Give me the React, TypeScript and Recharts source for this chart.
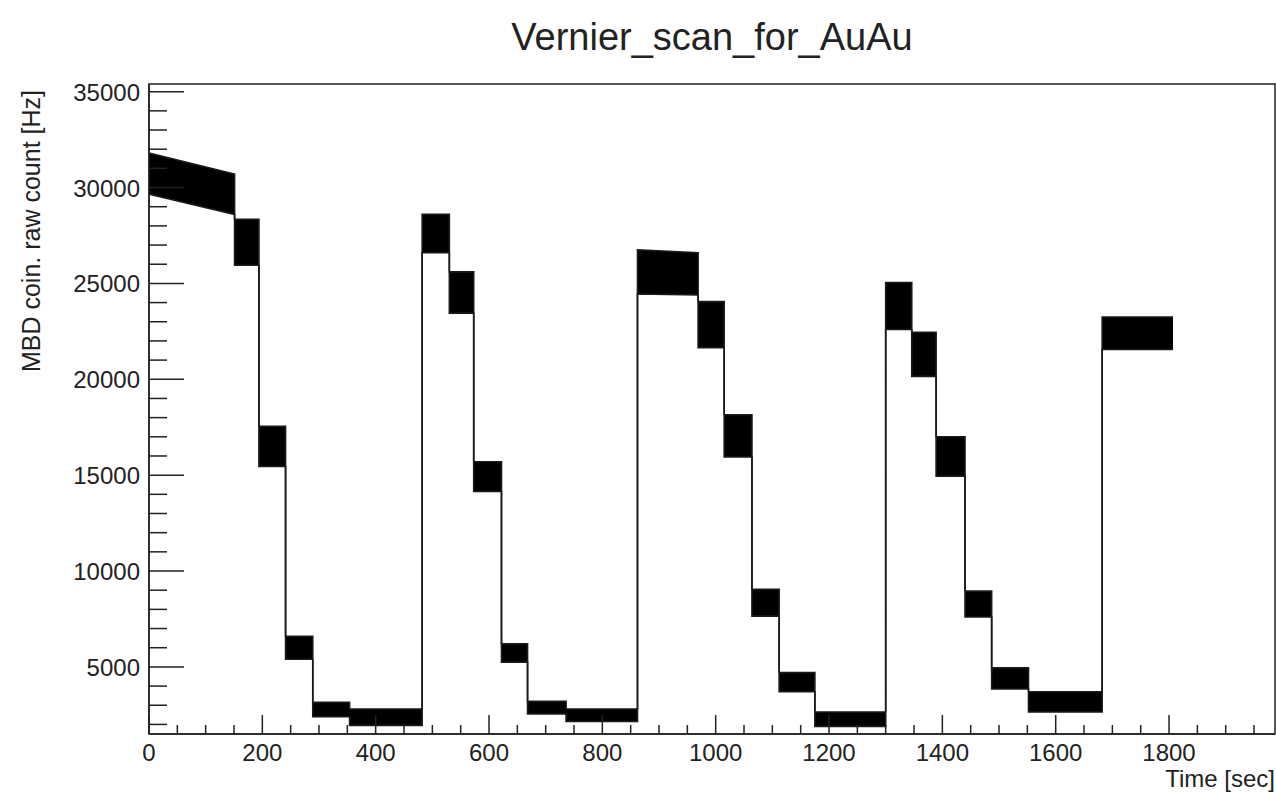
import React from "react"
import {
    ComposedChart,
    Area,
    XAxis,
    YAxis,
    ReferenceArea,
} from "recharts"

// scan steps: time window [s] and the spread of the MBD rate [Hz] at each end of the window
const stepStart = [0, 151, 194, 241, 289, 354, 482, 530, 573, 622, 668, 736, 862, 969, 1015, 1064, 1112, 1175, 1300, 1346, 1389, 1440, 1487, 1552, 1682]
const stepEnd = [151, 194, 241, 289, 354, 482, 530, 573, 622, 668, 736, 862, 969, 1015, 1064, 1112, 1175, 1300, 1346, 1389, 1440, 1487, 1552, 1682, 1807]
const lowAtStart = [29650, 25950, 15450, 5400, 2400, 1950, 26600, 23450, 14150, 5250, 2550, 2150, 24450, 21650, 15950, 7650, 3700, 1900, 22600, 20150, 14950, 7600, 3850, 2650, 21550]
const lowAtEnd = [28600, 25950, 15450, 5400, 2400, 1950, 26600, 23450, 14150, 5250, 2550, 2150, 24400, 21650, 15950, 7650, 3700, 1900, 22600, 20150, 14950, 7600, 3850, 2650, 21550]
const highAtStart = [31800, 28350, 17550, 6600, 3150, 2800, 28600, 25600, 15700, 6200, 3200, 2800, 26750, 24050, 18150, 9050, 4700, 2650, 25050, 22450, 17000, 8950, 4950, 3700, 23250]
const highAtEnd = [30700, 28350, 17550, 6600, 3150, 2800, 28600, 25600, 15700, 6200, 3200, 2800, 26600, 24050, 18150, 9050, 4700, 2650, 25050, 22450, 17000, 8950, 4950, 3700, 23250]

const xTicks = [
    0, 50, 100, 150, 200, 250, 300, 350, 400, 450, 500, 550, 600, 650, 700, 750, 800, 850, 900, 950,
    1000, 1050, 1100, 1150, 1200, 1250, 1300, 1350, 1400, 1450, 1500, 1550, 1600, 1650, 1700, 1750, 1800, 1850, 1900, 1950,
]
const yTicks = [
    2000, 3000, 4000, 5000, 6000, 7000, 8000, 9000, 10000, 11000, 12000, 13000, 14000, 15000, 16000, 17000, 18000,
    19000, 20000, 21000, 22000, 23000, 24000, 25000, 26000, 27000, 28000, 29000, 30000, 31000, 32000, 33000, 34000, 35000,
]

const X_MAX = 1987
const Y_MIN = 1500
const Y_MAX = 35400

const FONT = "'Liberation Sans', Arial, Helvetica, sans-serif"
const INK = "#222"

const rows = stepStart.flatMap((t0, i) => [
    { t: t0, band: [lowAtStart[i], highAtStart[i]] },
    { t: stepEnd[i], band: [lowAtEnd[i], highAtEnd[i]] },
])

// ROOT style: ticks point into the frame, labels sit outside
const YTick = (props: any) => {
    const { x, y, payload } = props
    const major = payload.value % 5000 === 0
    return (
        <g>
            <line x1={x} x2={x + (major ? 35 : 18)} y1={y} y2={y} stroke={INK} strokeWidth={1.5} />
            {major && (
                <text x={x - 9} y={y + 9} textAnchor="end" fontSize={24} fontFamily={FONT} fill={INK}>
                    {payload.value}
                </text>
            )}
        </g>
    )
}

const XTick = (props: any) => {
    const { x, y, payload } = props
    const major = payload.value % 200 === 0
    return (
        <g>
            <line x1={x} x2={x} y1={y} y2={y - (major ? 19 : 9)} stroke={INK} strokeWidth={1.5} />
            {major && (
                <text x={x} y={y + 27} textAnchor="middle" fontSize={24} fontFamily={FONT} fill={INK}>
                    {payload.value}
                </text>
            )}
        </g>
    )
}

export default function App() {
    return (
        <div style={{ position: "absolute", left: 0, top: 0, width: 1276, height: 792, background: "#fff" }}>
            <ComposedChart
                width={1276}
                height={792}
                data={rows}
                margin={{ top: 84, right: 1, left: 0, bottom: 0 }}
            >
                <XAxis
                    dataKey="t"
                    type="number"
                    domain={[0, X_MAX]}
                    ticks={xTicks}
                    interval={0}
                    allowDataOverflow
                    height={58}
                    tickSize={0}
                    tickMargin={0}
                    tickLine={false}
                    axisLine={{ stroke: INK, strokeWidth: 1.5 }}
                    tick={<XTick />}
                />
                <YAxis
                    type="number"
                    domain={[Y_MIN, Y_MAX]}
                    ticks={yTicks}
                    interval={0}
                    allowDataOverflow
                    width={149}
                    tickSize={0}
                    tickMargin={0}
                    tickLine={false}
                    axisLine={{ stroke: INK, strokeWidth: 1.5 }}
                    tick={<YTick />}
                />
                <ReferenceArea
                    x1={0}
                    x2={X_MAX}
                    y1={Y_MIN}
                    y2={Y_MAX}
                    fill="none"
                    stroke={INK}
                    strokeWidth={1.5}
                />
                <Area
                    type="linear"
                    dataKey="band"
                    stroke="#1a1a1a"
                    strokeWidth={1.6}
                    fill="#000"
                    fillOpacity={1}
                    dot={false}
                    activeDot={false}
                    isAnimationActive={false}
                />
                <text x={712} y={50} textAnchor="middle" fontSize={38} fontFamily={FONT} fill={INK}>
                    Vernier_scan_for_AuAu
                </text>
                <text
                    transform="translate(40, 90) rotate(-90)"
                    textAnchor="end"
                    fontSize={25}
                    fontFamily={FONT}
                    fill={INK}
                >
                    MBD coin. raw count [Hz]
                </text>
                <text x={1275} y={787} textAnchor="end" fontSize={24} fontFamily={FONT} fill={INK}>
                    Time [sec]
                </text>
            </ComposedChart>
        </div>
    )
}
